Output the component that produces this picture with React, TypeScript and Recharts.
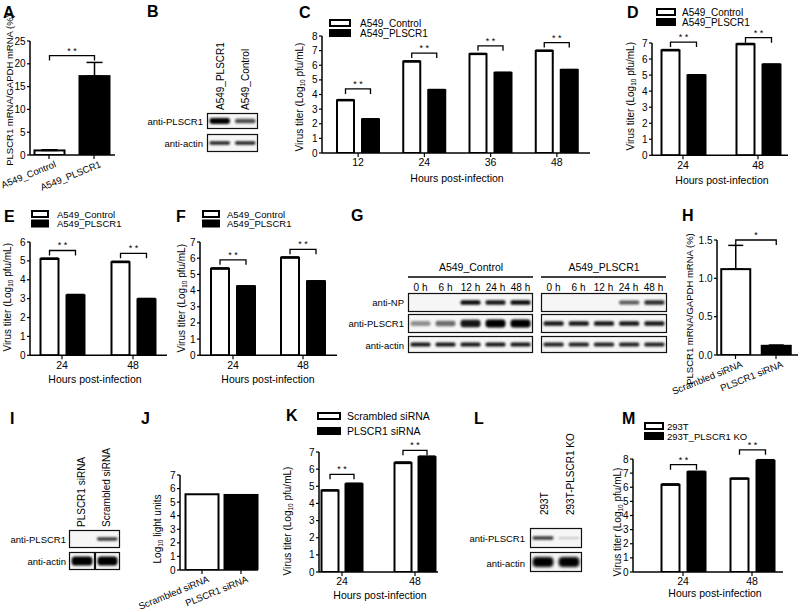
import React, { useId } from "react";
import { BarChart, Bar, XAxis, YAxis, ErrorBar, LabelList } from "recharts";

const FONT = '"Liberation Sans", Arial, Helvetica, sans-serif';
const INK = "#000";

// series names used in the legends
const a549Series = ["A549_Control", "A549_PLSCR1"];
const siSeries = ["Scrambled siRNA", "PLSCR1 siRNA"];
const k293Series = ["293T", "293T_PLSCR1 KO"];

// A: PLSCR1 mRNA / GAPDH mRNA (%)
const aCells = ["A549_Control", "A549_PLSCR1"];
const aMrna = [1.0, 17.3];
const aMrnaSd = [0.15, 3.0];
const aSig = [21.8, null];

// C: titer, 12-48 h
const cHours = ["12", "24", "36", "48"];
const cControl = [3.6, 6.25, 6.76, 6.98];
const cPlscr1 = [2.3, 4.3, 5.48, 5.68];
const cControlSd = [0.05, 0.05, 0.05, 0.05];
const cPlscr1Sd = [0.04, 0.04, 0.04, 0.03];
const cSig = [4.38, 6.83, 7.33, 7.55];

// D
const dHours = ["24", "48"];
const dControl = [6.54, 6.92];
const dPlscr1 = [4.98, 5.65];
const dControlSd = [0.05, 0.05];
const dPlscr1Sd = [0.04, 0.04];
const dSig = [7.06, 7.33];

// E
const eHours = ["24", "48"];
const eControl = [5.1, 4.93];
const ePlscr1 = [3.17, 2.96];
const eControlSd = [0.05, 0.05];
const ePlscr1Sd = [0.05, 0.05];
const eSig = [5.55, 5.4];

// F
const fHours = ["24", "48"];
const fControl = [5.35, 6.03];
const fPlscr1 = [4.26, 4.57];
const fControlSd = [0.05, 0.05];
const fPlscr1Sd = [0.03, 0.03];
const fSig = [5.9, 6.55];

// H: knockdown mRNA
const hCells = ["Scrambled siRNA", "PLSCR1 siRNA"];
const hMrna = [1.12, 0.12];
const hMrnaSd = [0.31, 0.01];
const hSig = [1.5, null];

// J: luciferase
const jCells = ["Scrambled siRNA", "PLSCR1 siRNA"];
const jLight = [5.58, 5.53];
const jLightSd = [0.03, 0.03];
const jSig = [null, null];

// K
const kHours = ["24", "48"];
const kScrambled = [4.75, 6.35];
const kSiPlscr1 = [5.12, 6.7];
const kScrambledSd = [0.04, 0.07];
const kSiPlscr1Sd = [0.06, 0.06];
const kSig = [5.7, 7.1];

// M
const mHours = ["24", "48"];
const m293 = [6.17, 6.6];
const mKo = [7.07, 7.87];
const m293Sd = [0.07, 0.05];
const mKoSd = [0.06, 0.08];
const mSig = [7.6, 8.65];

// western blot band strengths (0..1)
const bLanes = ["A549_PLSCR1", "A549_Control"];
const bPlscr1Band = [1.0, 0.6];
const bActinBand = [0.8, 0.8];

const gGroups = ["A549_Control", "A549_PLSCR1"];
const gTimes = ["0 h", "6 h", "12 h", "24 h", "48 h"];
const gCtrlNP = [0, 0, 0.9, 0.85, 0.9];
const gCtrlPL = [0.3, 0.45, 0.85, 1.0, 1.0];
const gCtrlActin = [0.85, 0.85, 0.85, 0.85, 0.85];
const gPlNP = [0, 0, 0, 0.55, 0.75];
const gPlPL = [0.85, 0.85, 0.85, 0.85, 0.85];
const gPlActin = [0.8, 0.8, 0.8, 0.8, 0.8];

const iLanes = ["PLSCR1 siRNA", "Scrambled siRNA"];
const iPlscr1Band = [0, 0.7];
const iActinBand = [1, 1];

const lLanes = ["293T", "293T-PLSCR1 KO"];
const lPlscr1Band = [0.7, 0.05];
const lActinBand = [1, 1];

const pairRows = (
  cats: string[],
  a: number[],
  aSd: number[],
  b: number[],
  bSd: number[],
  sig: (number | null)[]
) =>
  cats.map((cat, i) => ({
    cat,
    a: a[i],
    aErr: [0, aSd[i]],
    b: b[i],
    bErr: [0, bSd[i]],
    sig: sig[i],
  }));

const singleRows = (cats: string[], v: number[], sd: number[], sig: (number | null)[]) =>
  cats.map((cat, i) => ({ cat, a: v[i], aErr: [0, sd[i]], sig: sig[i] }));

const titerLabel = (
  <>
    <tspan>Virus titer (Log</tspan>
    <tspan fontSize={6.5} dy={3}>
      10
    </tspan>
    <tspan dy={-3}> pfu/mL)</tspan>
  </>
);

const lightLabel = (
  <>
    <tspan>Log</tspan>
    <tspan fontSize={6.5} dy={3}>
      10
    </tspan>
    <tspan dy={-3}> light units</tspan>
  </>
);

interface PanelSpec {
  rows: Record<string, unknown>[];
  series: { key: string; err: string; fill: string }[];
  cellFills?: string[];
  axisX: number;
  axisEnd: number;
  topPx: number;
  zeroPx: number;
  yMax: number;
  yTicks: number[];
  yDigits?: number;
  padL: number;
  padR: number;
  barSize: number;
  barGap?: number;
  showErr?: boolean;
  errW?: number;
  yLabel: React.ReactNode;
  yLabelAt: [number, number];
  yLabelSize?: number;
  xLabel?: string;
  xLabelAt?: [number, number];
  slant?: boolean;
  star?: string;
}

const LW = 70;
const MT = 30;
const XH = 60;
const MR = 12;

function SlantTick(props: any) {
  const { x, y, payload } = props;
  const ax = x + 5;
  const ay = y - 1;
  return (
    <text
      x={ax}
      y={ay}
      textAnchor="end"
      dominantBaseline="hanging"
      fontSize={9.5}
      fill={INK}
      transform={`rotate(-22, ${ax}, ${ay})`}
    >
      {payload.value}
    </text>
  );
}

function Panel(s: PanelSpec) {
  const plotW = s.axisEnd - s.axisX;
  const plotH = s.zeroPx - s.topPx;
  const left = s.axisX - LW;
  const top = s.topPx - MT;
  const width = LW + plotW + MR;
  const height = MT + plotH + XH;
  const gap = s.barGap ?? 0;
  const pair = s.series.length > 1;
  const band = (plotW - s.padL - s.padR) / s.rows.length;
  const ppu = plotH / s.yMax;
  // ErrorBar "width" is the half length of the cap
  const capHalf = (s.errW ?? s.barSize) / 2;

  const bracket = (lp: any) => {
    const x = Number(lp.x ?? lp.viewBox?.x);
    const y = Number(lp.y ?? lp.viewBox?.y);
    const w = Number(lp.width ?? lp.viewBox?.width);
    const h = Number(lp.height ?? lp.viewBox?.height);
    const row = s.rows[lp.index] as { sig: number | null };
    if (!row || row.sig == null) return null;
    const base = y + h;
    const by = base - row.sig * ppu;
    const x1 = x + w / 2;
    const x2 = pair ? x1 + w + gap : x1 + band;
    return (
      <g>
        <path
          d={`M${x1},${by + 5}V${by}H${x2}V${by + 5}`}
          stroke={INK}
          strokeWidth={1.3}
          fill="none"
        />
        <text x={(x1 + x2) / 2} y={by - 2} textAnchor="middle" fontSize={9} fill={INK}>
          {s.star ?? "* *"}
        </text>
      </g>
    );
  };

  const barShape = (fill: string) => (bp: any) => {
    const f = s.cellFills ? s.cellFills[bp.index] : fill;
    return (
      <rect
        x={bp.x}
        y={bp.y}
        width={bp.width}
        height={Math.max(0, bp.height)}
        fill={f}
        stroke={INK}
        strokeWidth={2}
      />
    );
  };

  const yLab = () => (
    <text
      transform={`translate(${s.yLabelAt[0] - left}, ${s.yLabelAt[1] - top}) rotate(-90)`}
      textAnchor="middle"
      dominantBaseline="central"
      fontSize={s.yLabelSize ?? 10}
      fill={INK}
    >
      {s.yLabel}
    </text>
  );

  const xLab = () =>
    s.xLabel && s.xLabelAt ? (
      <text
        x={s.xLabelAt[0] - left}
        y={s.xLabelAt[1] - top}
        textAnchor="middle"
        dominantBaseline="central"
        fontSize={10.5}
        fill={INK}
      >
        {s.xLabel}
      </text>
    ) : null;

  return (
    <div style={{ position: "absolute", left, top }}>
      <BarChart
        width={width}
        height={height}
        data={s.rows}
        margin={{ top: MT, right: MR, left: 0, bottom: 0 }}
        barGap={gap}
      >
        <XAxis
          dataKey="cat"
          height={XH}
          interval={0}
          padding={{ left: s.padL, right: s.padR }}
          axisLine={{ stroke: INK, strokeWidth: 1.5 }}
          tickLine={{ stroke: INK, strokeWidth: 1.2 }}
          tickSize={4}
          tickMargin={2}
          tick={s.slant ? <SlantTick /> : { fill: INK, fontSize: 10.5 }}
          label={{ content: xLab }}
        />
        <YAxis
          width={LW}
          type="number"
          domain={[0, s.yMax]}
          ticks={s.yTicks}
          interval={0}
          allowDataOverflow
          axisLine={{ stroke: INK, strokeWidth: 1.5 }}
          tickLine={{ stroke: INK, strokeWidth: 1.2 }}
          tickSize={3}
          tickMargin={1.5}
          tick={{ fill: INK, fontSize: 10 }}
          tickFormatter={(v: number) => v.toFixed(s.yDigits ?? 0)}
          label={{ content: yLab }}
        />
        {s.series.map((sr, si) => (
          <Bar
            key={sr.key}
            dataKey={sr.key}
            fill={sr.fill}
            barSize={s.barSize}
            shape={barShape(sr.fill)}
            isAnimationActive={false}
          >
            {s.showErr !== false && (
              <ErrorBar dataKey={sr.err} width={capHalf} stroke={INK} strokeWidth={1.5} direction="y" />
            )}
            {si === 0 && <LabelList dataKey={sr.key} content={bracket} />}
          </Bar>
        ))}
      </BarChart>
    </div>
  );
}

function Blot({
  x,
  y,
  w,
  h,
  lanes,
  thick,
  blur = 0.9,
}: {
  x: number;
  y: number;
  w: number;
  h: number;
  lanes: number[];
  thick: number;
  blur?: number;
}) {
  const id = "f" + useId().replace(/[^a-zA-Z0-9]/g, "");
  const laneW = w / lanes.length;
  return (
    <g transform={`translate(${x}, ${y})`}>
      <defs>
        <filter id={id} x="-20%" y="-80%" width="140%" height="260%">
          <feGaussianBlur stdDeviation={blur} />
        </filter>
      </defs>
      <rect x={0.5} y={0.5} width={w - 1} height={h - 1} fill="#f6f6f6" stroke="#111" strokeWidth={1.2} />
      <g filter={`url(#${id})`}>
        {lanes.map((v, i) => {
          if (v < 0.02) return null;
          const bh = thick * (0.45 + 0.55 * v);
          return (
            <rect
              key={i}
              x={i * laneW + laneW * 0.1}
              y={h / 2 - bh / 2}
              width={laneW * 0.8}
              height={bh}
              rx={bh / 2.5}
              fill={INK}
              fillOpacity={Math.min(1, 0.15 + 0.9 * v)}
            />
          );
        })}
      </g>
    </g>
  );
}

function Key({
  x,
  y,
  labels,
  step,
  boxW = 18,
  textDx = 25,
  size = 10,
}: {
  x: number;
  y: number;
  labels: string[];
  step: number;
  boxW?: number;
  textDx?: number;
  size?: number;
}) {
  return (
    <g>
      {labels.map((t, i) => (
        <g key={t}>
          <rect
            x={x}
            y={y + i * step}
            width={boxW}
            height={6}
            fill={i === 0 ? "#fff" : INK}
            stroke={INK}
            strokeWidth={2}
          />
          <text x={x + textDx} y={y + i * step + 3} dominantBaseline="central" fontSize={size} fill={INK}>
            {t}
          </text>
        </g>
      ))}
    </g>
  );
}

const Letter = ({ x, y, t }: { x: number; y: number; t: string }) => (
  <text x={x} y={y} fontSize={16} fontWeight="bold" fill={INK}>
    {t}
  </text>
);

const RightText = ({ x, y, t }: { x: number; y: number; t: string }) => (
  <text x={x} y={y} textAnchor="end" dominantBaseline="central" fontSize={9.5} fill={INK}>
    {t}
  </text>
);

const UpText = ({ x, y, t }: { x: number; y: number; t: string }) => (
  <text
    transform={`translate(${x}, ${y}) rotate(-90)`}
    textAnchor="start"
    dominantBaseline="central"
    fontSize={10}
    fill={INK}
  >
    {t}
  </text>
);

function Annotations() {
  const gLaneW = 125 / gTimes.length;
  return (
    <svg width={800} height={612} style={{ position: "absolute", left: 0, top: 0 }}>
      {[
        ["A", 3, 18],
        ["B", 147, 17],
        ["C", 299, 18],
        ["D", 627, 18],
        ["E", 4, 222],
        ["F", 176, 222],
        ["G", 351, 221],
        ["H", 682, 221],
        ["I", 10, 424],
        ["J", 141, 424],
        ["K", 286, 421],
        ["L", 474, 424],
        ["M", 622, 424],
      ].map(([t, x, y]) => (
        <Letter key={t as string} t={t as string} x={x as number} y={y as number} />
      ))}

      <Key x={330} y={20} labels={a549Series} step={10} boxW={20} textDx={30} />
      <Key x={657} y={9} labels={a549Series} step={10} />
      <Key x={32} y={211} labels={a549Series} step={9.5} boxW={16} textDx={25} size={9.5} />
      <Key x={203} y={211} labels={a549Series} step={9.5} boxW={16} textDx={24} size={9.5} />
      <Key x={318} y={413} labels={siSeries} step={15} boxW={22} textDx={29} size={10.5} />
      <Key x={645} y={423} labels={k293Series} step={10} boxW={18} textDx={22} size={9.5} />

      {/* B */}
      {bLanes.map((t, i) => (
        <UpText key={t} t={t} x={220 + i * 25} y={110} />
      ))}
      <Blot x={207} y={113} w={51} h={16} lanes={bPlscr1Band} thick={6} />
      <Blot x={207} y={134} w={51} h={18} lanes={bActinBand} thick={4} />
      <RightText x={203} y={121} t="anti-PLSCR1" />
      <RightText x={203} y={143} t="anti-actin" />

      {/* G */}
      {gGroups.map((g, k) => {
        const gx = k === 0 ? 408 : 541;
        return (
          <g key={g}>
            <text x={gx + 63} y={267} textAnchor="middle" dominantBaseline="central" fontSize={10.5} fill={INK}>
              {g}
            </text>
            <line x1={gx} x2={gx + 125} y1={277} y2={277} stroke={INK} strokeWidth={1.3} />
            {gTimes.map((t, i) => (
              <text
                key={t}
                x={gx + gLaneW * (i + 0.5)}
                y={287}
                textAnchor="middle"
                dominantBaseline="central"
                fontSize={10}
                fill={INK}
              >
                {t}
              </text>
            ))}
          </g>
        );
      })}
      <Blot x={408} y={293} w={125} h={19} lanes={gCtrlNP} thick={5} />
      <Blot x={408} y={314} w={125} h={19} lanes={gCtrlPL} thick={8} />
      <Blot x={408} y={336} w={125} h={17} lanes={gCtrlActin} thick={4.5} />
      <Blot x={541} y={293} w={126} h={19} lanes={gPlNP} thick={5} />
      <Blot x={541} y={314} w={126} h={19} lanes={gPlPL} thick={5} />
      <Blot x={541} y={336} w={126} h={17} lanes={gPlActin} thick={4.5} />
      <RightText x={404} y={302} t="anti-NP" />
      <RightText x={404} y={323} t="anti-PLSCR1" />
      <RightText x={404} y={345} t="anti-actin" />

      {/* I */}
      {iLanes.map((t, i) => (
        <UpText key={t} t={t} x={81 + i * 25} y={527} />
      ))}
      <Blot x={69} y={530} w={51} h={18} lanes={iPlscr1Band} thick={4} />
      <Blot x={69} y={552} w={26} h={18} lanes={iActinBand.slice(0, 1)} thick={9} />
      <Blot x={95} y={552} w={25} h={18} lanes={iActinBand.slice(1)} thick={9} />
      <RightText x={66} y={539} t="anti-PLSCR1" />
      <RightText x={66} y={561} t="anti-actin" />

      {/* L */}
      {lLanes.map((t, i) => (
        <UpText key={t} t={t} x={544 + i * 26} y={515} />
      ))}
      <Blot x={530} y={528} w={52} h={20} lanes={lPlscr1Band} thick={4} />
      <Blot x={530} y={552} w={52} h={20} lanes={lActinBand} thick={10} blur={1.4} />
      <RightText x={525} y={538} t="anti-PLSCR1" />
      <RightText x={525} y={563} t="anti-actin" />
    </svg>
  );
}

const pairSeries = [
  { key: "a", err: "aErr", fill: "#fff" },
  { key: "b", err: "bErr", fill: INK },
];
const oneSeries = [{ key: "a", err: "aErr", fill: "#fff" }];
const hrs = "Hours post-infection";

export default function App() {
  return (
    <div
      style={{
        position: "absolute",
        left: 0,
        top: 0,
        width: 800,
        height: 612,
        background: "#fff",
        overflow: "hidden",
        fontFamily: FONT,
      }}
    >
      <Annotations />

      <Panel
        rows={singleRows(aCells, aMrna, aMrnaSd, aSig)}
        series={oneSeries}
        cellFills={["#fff", INK]}
        axisX={30}
        axisEnd={115}
        topPx={41}
        zeroPx={155}
        yMax={25}
        yTicks={[0, 5, 10, 15, 20, 25]}
        padL={-3.5}
        padR={-1.5}
        barSize={30}
        errW={16}
        yLabel="PLSCR1 mRNA/GAPDH mRNA (%)"
        yLabelAt={[9, 90]}
        yLabelSize={9.5}
        slant
      />

      <Panel
        rows={pairRows(cHours, cControl, cControlSd, cPlscr1, cPlscr1Sd, cSig)}
        series={pairSeries}
        axisX={322}
        axisEnd={590}
        topPx={36}
        zeroPx={153}
        yMax={8}
        yTicks={[0, 1, 2, 3, 4, 5, 6, 7, 8]}
        padL={3}
        padR={0}
        barSize={17}
        barGap={8}
        yLabel={titerLabel}
        yLabelAt={[299, 97]}
        xLabel={hrs}
        xLabelAt={[457, 178]}
      />

      <Panel
        rows={pairRows(dHours, dControl, dControlSd, dPlscr1, dPlscr1Sd, dSig)}
        series={pairSeries}
        axisX={652}
        axisEnd={788}
        topPx={42.7}
        zeroPx={155}
        yMax={7}
        yTicks={[0, 1, 2, 3, 4, 5, 6, 7]}
        padL={-6.5}
        padR={-7.5}
        barSize={18}
        barGap={8}
        yLabel={titerLabel}
        yLabelAt={[630, 96]}
        xLabel={hrs}
        xLabelAt={[722, 180]}
      />

      <Panel
        rows={pairRows(eHours, eControl, eControlSd, ePlscr1, ePlscr1Sd, eSig)}
        series={pairSeries}
        axisX={30}
        axisEnd={167}
        topPx={241.7}
        zeroPx={355}
        yMax={6}
        yTicks={[0, 1, 2, 3, 4, 5, 6]}
        padL={-3.5}
        padR={-1.5}
        barSize={18}
        barGap={8}
        yLabel={titerLabel}
        yLabelAt={[7, 297]}
        xLabel={hrs}
        xLabelAt={[95, 379]}
      />

      <Panel
        rows={pairRows(fHours, fControl, fControlSd, fPlscr1, fPlscr1Sd, fSig)}
        series={pairSeries}
        axisX={200}
        axisEnd={337}
        topPx={241.7}
        zeroPx={355}
        yMax={7}
        yTicks={[0, 1, 2, 3, 4, 5, 6, 7]}
        padL={-2}
        padR={-1}
        barSize={18}
        barGap={8}
        yLabel={titerLabel}
        yLabelAt={[181, 298]}
        xLabel={hrs}
        xLabelAt={[268, 379]}
      />

      <Panel
        rows={singleRows(hCells, hMrna, hMrnaSd, hSig)}
        series={oneSeries}
        cellFills={["#fff", INK]}
        axisX={717}
        axisEnd={798}
        topPx={240}
        zeroPx={355}
        yMax={1.5}
        yTicks={[0, 0.5, 1, 1.5]}
        yDigits={1}
        padL={-1.75}
        padR={1.75}
        barSize={29}
        errW={15}
        yLabel="PLSCR1 mRNA/GAPDH mRNA (%)"
        yLabelAt={[689, 309]}
        yLabelSize={9.5}
        slant
        star="*"
      />

      <Panel
        rows={singleRows(jCells, jLight, jLightSd, jSig)}
        series={oneSeries}
        cellFills={["#fff", INK]}
        axisX={180}
        axisEnd={258}
        topPx={475}
        zeroPx={570}
        yMax={7}
        yTicks={[0, 1, 2, 3, 4, 5, 6, 7]}
        padL={2.5}
        padR={-2.5}
        barSize={33}
        showErr={false}
        yLabel={lightLabel}
        yLabelAt={[157, 529]}
        slant
      />

      <Panel
        rows={pairRows(kHours, kScrambled, kScrambledSd, kSiPlscr1, kSiPlscr1Sd, kSig)}
        series={pairSeries}
        axisX={319}
        axisEnd={438}
        topPx={452}
        zeroPx={572}
        yMax={7}
        yTicks={[0, 1, 2, 3, 4, 5, 6, 7]}
        padL={-13.5}
        padR={-13.5}
        barSize={17}
        barGap={7}
        yLabel={titerLabel}
        yLabelAt={[287, 521]}
        xLabel={hrs}
        xLabelAt={[380, 595]}
      />

      <Panel
        rows={pairRows(mHours, m293, m293Sd, mKo, mKoSd, mSig)}
        series={pairSeries}
        axisX={633}
        axisEnd={783}
        topPx={459}
        zeroPx={572}
        yMax={8}
        yTicks={[0, 1, 2, 3, 4, 5, 6, 7, 8]}
        padL={15.5}
        padR={-3.5}
        barSize={18}
        barGap={8}
        yLabel={titerLabel}
        yLabelAt={[617, 522]}
        xLabel={hrs}
        xLabelAt={[715, 593]}
      />
    </div>
  );
}
